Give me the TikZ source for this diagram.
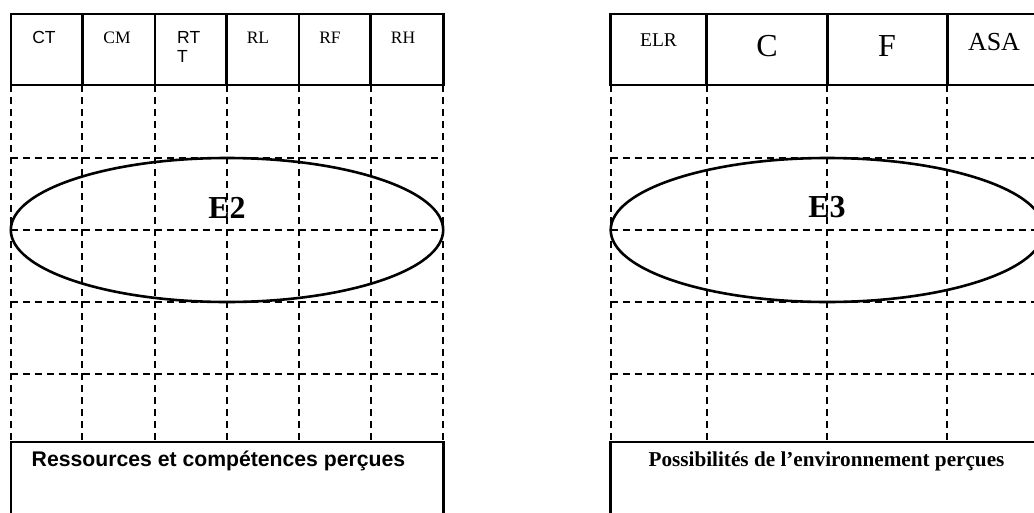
\documentclass[tikz,border=0pt]{standalone}
\usepackage{fontspec}
\setmainfont{Liberation Serif}
\newfontfamily\arialf{Liberation Sans}
\usetikzlibrary{positioning}
\tikzset{
  cell/.style={draw, line width=2.8pt, inner sep=0pt},
  grid/.style={line width=1.8pt, dash pattern=on 7pt off 5pt},
  ell/.style={line width=2.6pt},
  lbl/.style={inner sep=0pt, font=\fontsize{17.5}{19}\selectfont},
  lbls/.style={inner sep=0pt, font=\arialf\fontsize{17.5}{19}\selectfont},
}
\begin{document}
\begin{tikzpicture}[x=1pt,y=-1pt]
\useasboundingbox (0,0) rectangle (1034,512);
\clip (0,0) rectangle (1034,512);
% ---------- left panel ----------
% dashed grid
\foreach \x in {11,82.3,155,226.7,299,370.7,443.3}
  \draw[grid] (\x,85) -- (\x,442);
\foreach \y in {158,230,302,374}
  \draw[grid] (11,\y) -- (443.3,\y);
% header cells
\node[cell, minimum width=71.3pt, minimum height=71pt] (ct)  at (46.65,49.5) {};
\node[cell, minimum width=72.7pt, minimum height=71pt] (cm)  at (118.65,49.5) {};
\node[cell, minimum width=71.7pt, minimum height=71pt] (rtt) at (190.85,49.5) {};
\node[cell, minimum width=72.3pt, minimum height=71pt] (rl)  at (262.85,49.5) {};
\node[cell, minimum width=71.7pt, minimum height=71pt] (rf)  at (334.85,49.5) {};
\node[cell, minimum width=72.6pt, minimum height=71pt] (rh)  at (407,49.5) {};
\node[lbls] (tct) at (44,37.5) {CT};
\node[lbl]  (tcm) at (117,37.5) {CM};
\node[lbls, align=left, anchor=north west] (trt) at (177,31.5) {RT\\T};
\node[lbl]  (trl) at (258,37.5) {RL};
\node[lbl]  (trf) at (330,37.5) {RF};
\node[lbl]  (trh) at (403,37.5) {RH};
% ellipse
\draw[ell] (227,230) ellipse [x radius=216.2, y radius=72];
\node[inner sep=0pt, font=\bfseries\fontsize{32}{34}\selectfont] (e2) at (227,207.5) {E2};
% bottom box
\draw[cell] (11,442) rectangle (443.3,540);
\node[inner sep=0pt, anchor=base, font=\arialf\bfseries\fontsize{21.2}{23}\selectfont] (res) at (218.5,466) {Ressources et compétences perçues};
% ---------- right panel ----------
\foreach \x in {610.7,706.7,827.3,947.3,1067}
  \draw[grid] (\x,85) -- (\x,442);
\foreach \y in {158,230,302,374}
  \draw[grid] (610.7,\y) -- (1067,\y);
\node[cell, minimum width=96pt,    minimum height=71pt] (elr) at (658.7,49.5) {};
\node[cell, minimum width=120.6pt, minimum height=71pt] (cc)  at (767,49.5) {};
\node[cell, minimum width=120pt,   minimum height=71pt] (ff)  at (887.3,49.5) {};
\node[cell, minimum width=119.7pt, minimum height=71pt] (asa) at (1007.15,49.5) {};
\node[inner sep=0pt, font=\fontsize{19.5}{21}\selectfont] (telr) at (658.5,40.5) {ELR};
\node[inner sep=0pt, font=\fontsize{32}{34}\selectfont] (tc) at (767,46) {C};
\node[inner sep=0pt, font=\fontsize{32}{34}\selectfont] (tf) at (887,46) {F};
\node[inner sep=0pt, font=\fontsize{26}{28}\selectfont] (tasa) at (994,42.5) {ASA};
\draw[ell] (827.3,230) ellipse [x radius=216.6, y radius=72];
\node[inner sep=0pt, font=\bfseries\fontsize{32}{34}\selectfont] (e3) at (827,207.5) {E3};
\draw[cell] (610.7,442) rectangle (1067,540);
\node[inner sep=0pt, anchor=base, font=\bfseries\fontsize{21.2}{23}\selectfont] (pos) at (826.5,466) {Possibilités de l’environnement perçues};
\end{tikzpicture}
\end{document}
